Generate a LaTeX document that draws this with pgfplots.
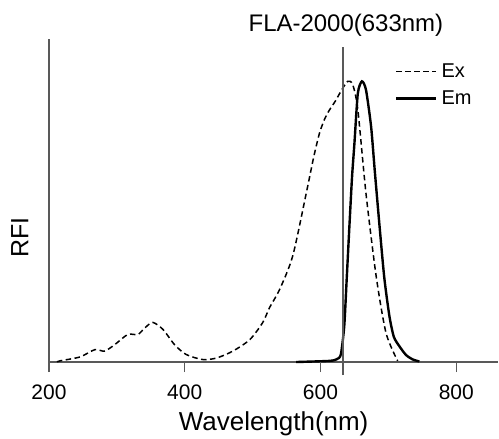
\documentclass[border=0pt]{standalone}
\usepackage{pgfplots}
\pgfplotsset{compat=1.18}
\usepackage{fontspec}
\setmainfont{Liberation Sans}

\begin{document}
\begin{tikzpicture}
\begin{axis}[scale only axis, width=450pt, height=323.5pt,
  xmin=200, xmax=862, ymin=0, ymax=1.151,
  axis lines=left,
  axis line style={black!65, line width=1.3pt, -},
  xtick={200,400,600,800}, ytick=\empty,
  xtick align=outside, major tick length=10pt,
  xtick style={black!65, line width=1.3pt},
  /pgf/number format/assume math mode=true,
  xticklabel style={font=\fontsize{21}{24}\selectfont, yshift=-9pt},
  xlabel={Wavelength(nm)}, ylabel={RFI},
  xlabel style={font=\fontsize{26}{30}\selectfont, yshift=-5pt},
  ylabel style={font=\fontsize{25}{30}\selectfont, at={(rel axis cs:-0.038,0.385)}},
  legend style={draw=none, fill=none, at={(rel axis cs:0.77,0.93)}, anchor=north west,
    font=\fontsize{20}{23}\selectfont, row sep=8pt, inner sep=0pt,
    nodes={inner xsep=4pt}},
  legend cell align=left,
  legend image code/.code={\draw[#1] (0pt,0pt) -- (40pt,0pt);},
  clip=false]
% excitation
\addplot[black, line width=1.5pt, dash pattern=on 5.5pt off 3.5pt, smooth, tension=0.45] coordinates {
(212,0) (216,0.004) (245.6,0.018) (267.6,0.044) (282,0.039) (297,0.062) (316,0.098) (331,0.098)
(341,0.121) (353,0.141) (368,0.116) (385,0.062) (402,0.027) (426,0.009) (446.6,0.014)
(471,0.039) (496,0.080) (515,0.141) (525,0.194) (539.7,0.258) (559,0.377) (579,0.601)
(590,0.73) (598.5,0.815) (606,0.865) (613,0.897) (622,0.93) (630,0.964) (640,1.0) (647.5,0.988)
(655,0.899) (667,0.601) (682,0.306) (696.6,0.103) (713.7,0.004)};
\addlegendentry{Ex}
% emission
\addplot[black, line width=2.4pt, smooth, tension=0.4] coordinates {
(564,0) (613,0.004) (624,0.010) (630,0.027) (635,0.128) (638.5,0.29) (642.6,0.484) (646.5,0.66)
(650,0.779) (655,0.957) (661,1.0) (667,0.970) (674.5,0.840) (680,0.68) (687,0.484)
(694,0.30) (701.5,0.164) (708,0.09) (716,0.057) (726,0.025) (736,0.009) (745.6,0.002)};
\addlegendentry{Em}
\coordinate (t4) at (axis cs:400,0);
\coordinate (t6) at (axis cs:600,0);
\coordinate (t8) at (axis cs:800,0);
\coordinate (lb) at (axis cs:633,0);
\coordinate (lt) at (axis cs:633,1.124);
\node[anchor=base, font=\fontsize{24}{28}\selectfont, xshift=3pt] at (axis cs:633,1.176) {FLA-2000(633nm)};
\coordinate (org) at (rel axis cs:0,0);
\end{axis}
% tick marks and laser line, drawn after the axis
\draw[black!65, line width=1.3pt] (t4) -- ++(0pt,-10pt);
\draw[black!65, line width=1.3pt] (t6) -- ++(0pt,-10pt);
\draw[black!65, line width=1.3pt] (t8) -- ++(0pt,-10pt);
\draw[black!65, line width=2pt] ([yshift=-13pt]lb) -- (lt);
\path (org) ++(-49pt,-75.5pt) rectangle ++(499pt,438pt);
\end{tikzpicture}
\end{document}
